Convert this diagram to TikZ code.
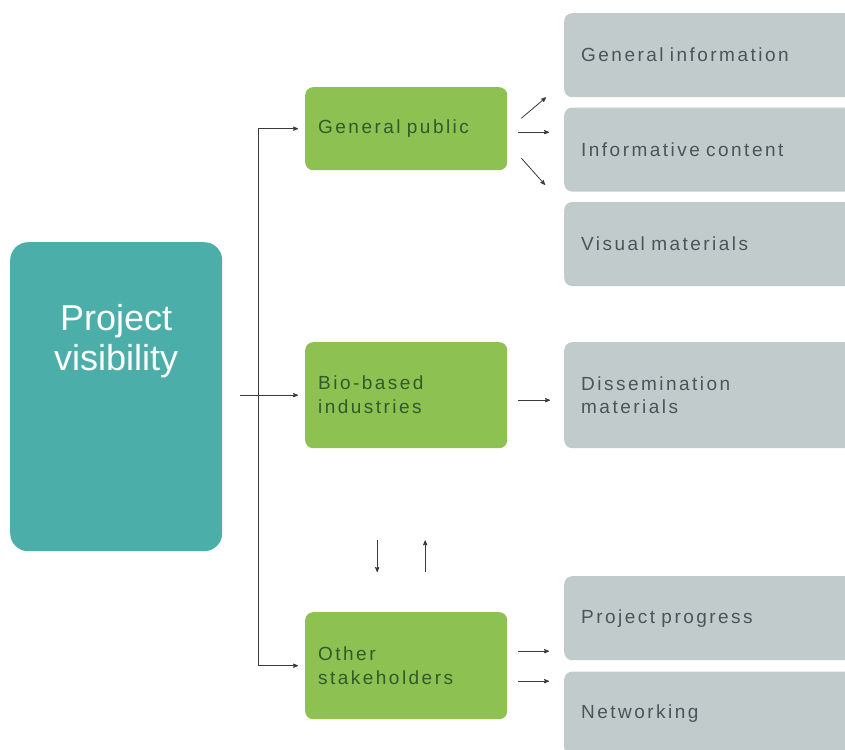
\documentclass[tikz,border=0pt]{standalone}
\usepackage{fontspec}
\setmainfont{Liberation Sans}
\newfontfamily\spacedfont[LetterSpace=13,WordSpace=1.7]{Liberation Sans}
\usepackage{tikz}
\usetikzlibrary{arrows,calc,positioning}
\definecolor{tealbox}{HTML}{4BAEA9}
\definecolor{greenbox}{HTML}{8DC152}
\definecolor{greybox}{HTML}{C1CBCB}
\definecolor{greentext}{HTML}{35592A}
\definecolor{greytext}{HTML}{4B5558}
\definecolor{linkline}{HTML}{3A3A3A}
\tikzset
{
    rootbox/.style  = {rectangle, rounded corners=18pt, fill=tealbox, anchor=north west, inner sep=0pt, minimum width=212pt, minimum height=309pt},
    roottext/.style = {align=center, text=white, font=\fontsize{36}{40}\selectfont},
    groupbox/.style = {rectangle, rounded corners=8pt, fill=greenbox, anchor=north west, align=left, text=greentext, inner xsep=13pt, text width=176pt, font=\spacedfont\fontsize{19}{24}\selectfont},
    itembox/.style  = {rectangle, rounded corners=8pt, fill=greybox, anchor=north west, align=left, text=greytext, inner xsep=17pt, text width=400pt, minimum height=84pt, font=\spacedfont\fontsize{19}{23}\selectfont},
    link/.style     = {draw=linkline, line width=0.8pt}
}

\begin{document}
\begin{tikzpicture}[x=1pt, y=-1pt, >=stealth']
    \useasboundingbox (0,0) rectangle (845,749);
    \clip (0,0) rectangle (845,749);

    % main box
    \node [rootbox] (visibility) at (10,242) {};
    \node [roottext] (title) at ([yshift=56pt]visibility.center) {Project\\visibility};

    % target groups
    \node [groupbox, minimum height=83pt]  (public)     at (305,87)  {General public};
    \node [groupbox, minimum height=106pt] (industries) at (305,342) {Bio-based\\industries};
    \node [groupbox, minimum height=107pt] (others)     at (305,612) {Other\\stakeholders};

    % what each group gets
    \node [itembox] (general) at (564,13) {General information};
    \node [itembox, below=10pt of general] (content) {Informative content};
    \node [itembox, below=10pt of content] (visual)  {Visual materials};
    \node [itembox, minimum height=106pt] (dissemination) at (564,342) {Dissemination\\materials};
    \node [itembox] (progress) at (564,576) {Project progress};
    \node [itembox, below=11pt of progress] (networking) {Networking};

    % bracket
    \coordinate (spine) at ($(visibility.east)+(36,0)$);
    \draw [link, <->, shorten <=7pt, shorten >=7pt] (public.west) -| (spine) |- (others.west);
    \draw [link, ->, shorten <=18pt, shorten >=7pt] (visibility.east |- industries.west) -- (industries.west);

    % group to material
    \draw [link, ->] ($(public.east)+(14,-10.5)$) -- ($(general.south west)+(-18,0)$);
    \draw [link, ->] ($(public.east)+(11,3.5)$) -- ($(public.east -| content.west)+(-15,3.5)$);
    \draw [link, ->] ($(public.east)+(14,29.5)$) -- ($(visual.north west)+(-19,-17)$);
    \draw [link, ->] ($(industries.east)+(11,5)$) -- ($(industries.east -| dissemination.west)+(-14,5)$);
    \draw [link, ->] ($(others.east)+(11,-14.5)$) -- ($(others.east -| progress.west)+(-15,-14.5)$);
    \draw [link, ->] ($(others.east)+(11,15.5)$) -- ($(others.east -| networking.west)+(-15,15.5)$);

    % exchange between industries and stakeholders
    \draw [link, ->] ($(industries.south)+(-29,92)$) -- ($(others.north)+(-29,-40)$);
    \draw [link, <-] ($(industries.south)+(19,92)$) -- ($(others.north)+(19,-40)$);
\end{tikzpicture}
\end{document}
